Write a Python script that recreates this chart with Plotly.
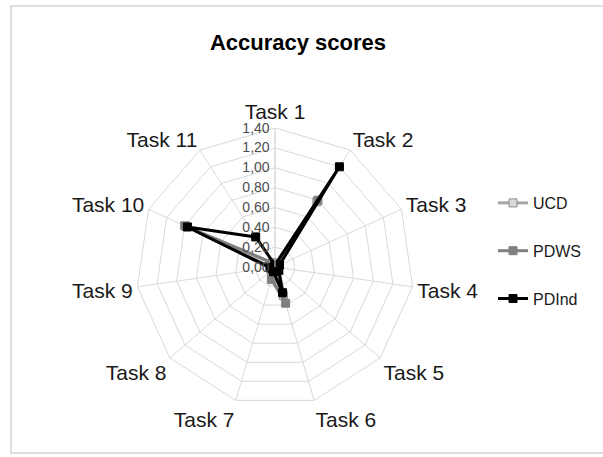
import plotly.graph_objects as go

tasks = ["Task 1", "Task 2", "Task 3", "Task 4", "Task 5", "Task 6",
         "Task 7", "Task 8", "Task 9", "Task 10", "Task 11"]
ucd = [0.02, 0.78, 0.03, 0.02, 0.03, 0.30, 0.10, 0.03, 0.03, 0.98, 0.05]
pdws = [0.02, 0.80, 0.03, 0.03, 0.05, 0.38, 0.13, 0.05, 0.05, 1.00, 0.05]
pdind = [0.02, 1.20, 0.05, 0.03, 0.05, 0.27, 0.05, 0.03, 0.05, 0.97, 0.36]
radial_ticks = [0.0, 0.2, 0.4, 0.6, 0.8, 1.0, 1.2, 1.4]

W, H = 603, 457
cx, cy, R = 275, 267, 139

series = [
    ("UCD", ucd, "#a6a6a6", "#d9d9d9", "#8c8c8c"),
    ("PDWS", pdws, "#808080", "#808080", "#808080"),
    ("PDInd", pdind, "#000000", "#000000", "#000000"),
]

fig = go.Figure()
for i, (name, vals, lc, mfill, mline) in enumerate(series):
    fig.add_trace(go.Scatterpolar(
        r=vals + vals[:1],
        theta=tasks + tasks[:1],
        mode="lines+markers",
        name=name,
        legendgroup=name,
        line=dict(color=lc, width=3),
        marker=dict(symbol="square", size=8, color=mfill,
                    line=dict(color=mline, width=1)),
    ))

fig.update_layout(
    width=W, height=H,
    margin=dict(l=0, r=0, t=0, b=0),
    paper_bgcolor="white",
    separators=",.",
    font=dict(family="Liberation Sans, Arial, sans-serif", color="#000000"),
    title=dict(text="<b>Accuracy scores</b>", x=298 / W, xanchor="center",
               y=1 - 42 / H, yanchor="middle",
               font=dict(size=22, color="#000000")),
    polar=dict(
        domain=dict(x=[(cx - R) / W, (cx + R) / W],
                    y=[1 - (cy + R) / H, 1 - (cy - R) / H]),
        bgcolor="white",
        gridshape="linear",
        angularaxis=dict(
            rotation=90, direction="clockwise",
            showline=True, linecolor="#d9d9d9", linewidth=1,
            gridcolor="#d9d9d9", gridwidth=1,
            ticks="", tickfont=dict(size=21, color="#1a1a1a"),
        ),
        radialaxis=dict(
            range=[0, 1.4], tickvals=radial_ticks, tickformat=".2f",
            angle=90, tickangle=90, side="counterclockwise",
            showline=True, linecolor="#d9d9d9", linewidth=1,
            gridcolor="#d9d9d9", gridwidth=1,
            ticks="", tickfont=dict(size=14, color="#4d4d4d"),
        ),
    ),
    legend=dict(
        x=493 / W, xanchor="left", y=1 - 186 / H, yanchor="top",
        font=dict(size=16, color="#1a1a1a"),
        itemwidth=30, tracegroupgap=24, bgcolor="rgba(0,0,0,0)",
    ),
    shapes=[dict(type="rect", xref="paper", yref="paper",
                 x0=11 / W, x1=1.05, y0=1 - 453 / H, y1=1 - 6 / H,
                 line=dict(color="#d4d4d4", width=1.5))],
)

fig.write_html("out.html")
